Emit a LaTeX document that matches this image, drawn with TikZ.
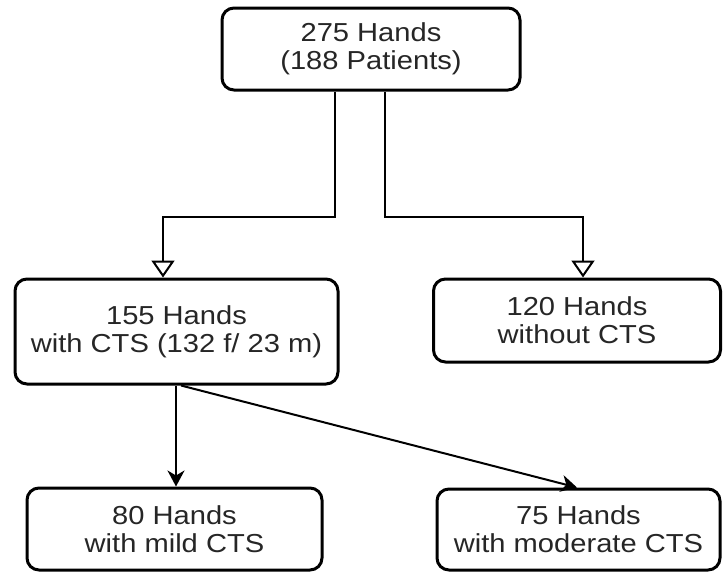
\documentclass[tikz,border=0pt]{standalone}
\usepackage{fontspec}
\setmainfont{Liberation Sans}[FakeStretch=1.12]
\usetikzlibrary{arrows.meta}
\begin{document}
\begin{tikzpicture}[x=1pt,y=-1pt,
  box/.style={draw=black, line width=3pt, rounded corners=12pt, fill=white,
    align=center, inner sep=0pt, text=black!85,
    font=\fontsize{26}{28}\selectfont},
  conn/.style={line width=2pt, draw=black},
  openarrow/.style={conn, -{Triangle[open, length=17pt, width=23pt, line width=2pt]}},
  fillarrow/.style={conn, -{Stealth[length=16pt, width=17pt, inset=5pt]}}
]
\useasboundingbox (0,0) rectangle (723,574);
\node[box, minimum width=298pt, minimum height=82pt] (top) at (371,49) {275 Hands\\(188 Patients)};
\node[box, minimum width=323pt, minimum height=105pt] (cts) at (176.5,331.5) {155 Hands\\with CTS (132 f/ 23 m)};
\node[box, minimum width=287pt, minimum height=83pt] (nocts) at (577,320.5) {120 Hands\\without CTS};
\node[box, minimum width=295pt, minimum height=82pt] (mild) at (174.5,529) {80 Hands\\with mild CTS};
\node[box, minimum width=283pt, minimum height=81pt] (mod) at (578.5,529.5) {75 Hands\\with moderate CTS};
\coordinate (xa) at (335,0);
\coordinate (xb) at (385,0);
\coordinate (xc) at (163,217);
\coordinate (xd) at (583,217);
\coordinate (xe) at (176,0);
\coordinate (xf) at (181,0);
\coordinate (xg) at (577,0);
\draw[openarrow] (top.south -| xa) |- (xc) -- (cts.north -| xc);
\draw[openarrow] (top.south -| xb) |- (xd) -- (nocts.north -| xd);
\draw[fillarrow] (cts.south -| xe) -- (mild.north -| xe);
\draw[fillarrow] (cts.south -| xf) -- (mod.north -| xg);
\end{tikzpicture}
\end{document}
